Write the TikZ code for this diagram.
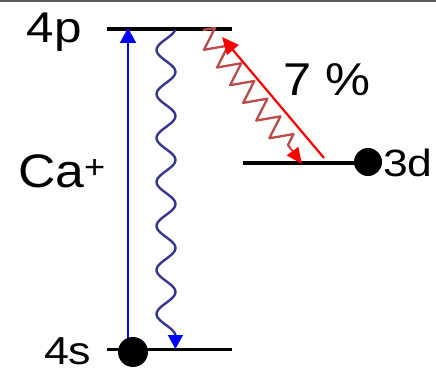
\documentclass[tikz,border=0pt]{standalone}
\usepackage{fontspec}
\setmainfont{Liberation Sans}
\usetikzlibrary{arrows.meta,decorations.pathmorphing,calc}
\tikzset{
  level/.style={line width=3.6pt, black},
  lbl/.style={anchor=base west, inner sep=0pt, outer sep=0pt},
  electron/.style={circle, fill=black, inner sep=0pt},
  pump/.style={blue, line width=2pt, -{Triangle[length=15pt,width=16pt]}},
  bluewave/.style={color={rgb,255:red,55;green,55;blue,145}, line width=2.4pt},
  redwave/.style={color={rgb,255:red,185;green,75;blue,75}, line width=2.3pt, line join=round,
    decorate, decoration={zigzag, segment length=22pt, amplitude=11pt}},
  repump/.style={red, line width=2.2pt, -{Triangle[length=17pt,width=15pt]}},
}
\begin{document}
\begin{tikzpicture}[x=1pt,y=-1pt]
\useasboundingbox (0,0) rectangle (436,371);
\draw[line width=2pt, black!65] (0,1) -- (436,1);
% levels
\coordinate (p1) at (107,29); \coordinate (p2) at (232,29);
\coordinate (s1) at (107,349.5); \coordinate (s2) at (232,349.5);
\coordinate (d1) at (243,163); \coordinate (d2) at (368,163);
\draw[level] (p1) -- (p2);
\draw[level] (s1) -- (s2);
\draw[level] (d1) -- (d2);
% labels
\node[lbl] (l4p) at (27,43) {\fontsize{43}{43}\selectfont\scalebox{1.15}[1]{4p}};
\node[lbl] (l4s) at (44,364) {\fontsize{39}{39}\selectfont\scalebox{1.15}[1]{4s}};
\node[lbl] (l3d) at (383,177) {\fontsize{38}{38}\selectfont\scalebox{1.17}[1]{3d}};
\node[lbl] (lpct) at (283,96) {\fontsize{46}{46}\selectfont\scalebox{1.1}[1]{7 \%}};
\node[lbl] (lca) at (18,188) {\fontsize{47}{47}\selectfont\scalebox{1.1}[1]{Ca\textsuperscript{+}}};
% blue pump arrow
\coordinate (pb) at (128,349); \coordinate (pt) at (128,28);
\draw[pump] (pb) -- (pt);
% blue spontaneous decay
\draw[bluewave] plot[smooth, domain=30:335, samples=140] ({166-9.5*sin(8.1818*(\x-39))}, \x);
\coordinate (wb1) at (175.4,334); \coordinate (wb2) at (175.4,349);
\draw[blue, line width=1.5pt, -{Triangle[length=14pt,width=15pt]}] (wb1) -- (wb2);
% red decay to 3d
\coordinate (rs) at (203,30); \coordinate (re) at (302,164);
\coordinate (rm) at ($(rs)!0.885!(re)$);
\draw[redwave] (rs) -- (rm);
\draw[red, line width=1.5pt, -{Triangle[length=16pt,width=14pt]}] (rm) -- (re);
% repump arrow
\coordinate (ra) at (324,158); \coordinate (rb) at (222,37);
\draw[repump] (ra) -- (rb);
% electrons
\node[electron, minimum size=30pt] (e4s) at (133,352) {};
\node[electron, minimum size=28pt] (e3d) at (368,162) {};
\end{tikzpicture}
\end{document}
